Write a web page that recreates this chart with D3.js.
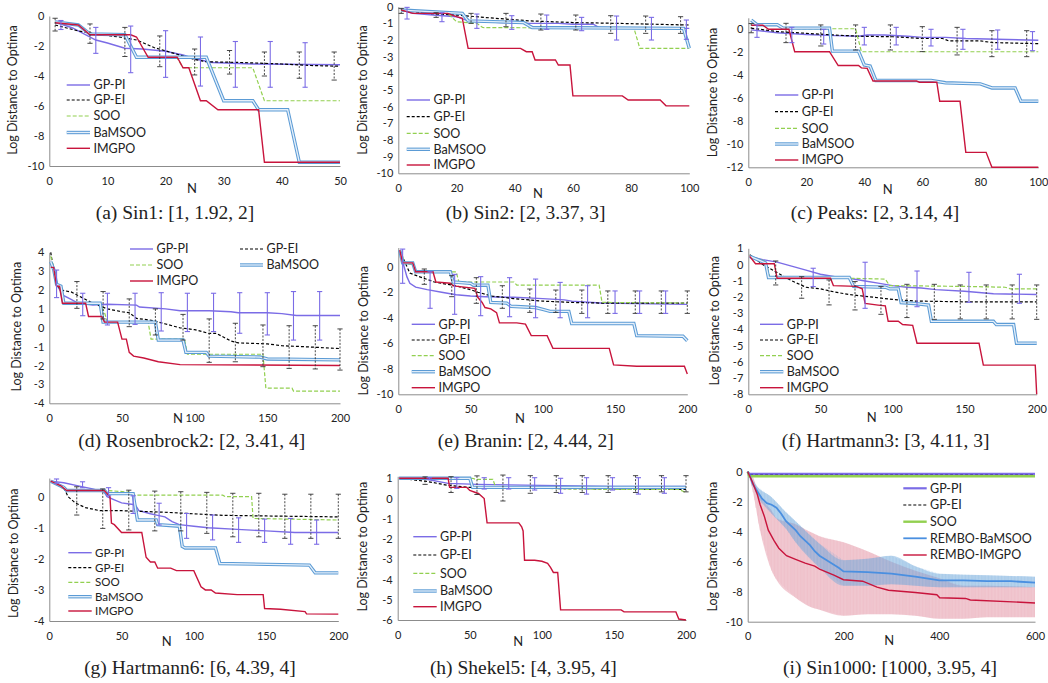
<!DOCTYPE html>
<html><head><meta charset="utf-8">
<script src="https://cdn.jsdelivr.net/npm/d3@7/dist/d3.min.js"></script>
<style>
body{margin:0;background:#fff}
svg text{font-family:Lato,"Liberation Sans",sans-serif;fill:#222}
</style>
</head><body>
<svg id="chart" width="1048" height="683"></svg>
<script>
// ---------------- DATA ----------------
const seriesKeys = ["PI","EI","SOO","Ba","IM"];
const legendNames = ["GP-PI","GP-EI","SOO","BaMSOO","IMGPO"];
const legendNamesRembo = ["GP-PI","GP-EI","SOO","REMBO-BaMSOO","REMBO-IMGPO"];
const captions = ["(a) Sin1: [1, 1.92, 2]","(b) Sin2: [2, 3.37, 3]","(c) Peaks: [2, 3.14, 4]",
  "(d) Rosenbrock2: [2, 3.41, 4]","(e) Branin: [2, 4.44, 2]","(f) Hartmann3: [3, 4.11, 3]",
  "(g) Hartmann6: [6, 4.39, 4]","(h) Shekel5: [4, 3.95, 4]","(i) Sin1000: [1000, 3.95, 4]"];
const yTitle = "Log Distance to Optima";
const xTitle = "N";

// tick values
const a_xTicks=[0,10,20,30,40,50], a_yTicks=[0,-2,-4,-6,-8,-10];
const b_xTicks=[0,20,40,60,80,100], b_yTicks=[0,-1,-2,-3,-4,-5,-6,-7,-8,-9,-10];
const c_xTicks=[0,20,40,60,80,100], c_yTicks=[0,-2,-4,-6,-8,-10,-12];
const d_xTicks=[0,50,100,150,200], d_yTicks=[4,3,2,1,0,-1,-2,-3,-4];
const e_xTicks=[0,50,100,150,200], e_yTicks=[0,-2,-4,-6,-8,-10];
const f_xTicks=[0,50,100,150,200], f_yTicks=[1,0,-1,-2,-3,-4,-5,-6,-7,-8];
const g_xTicks=[0,50,100,150,200], g_yTicks=[0,-1,-2,-3,-4];
const h_xTicks=[0,50,100,150,200], h_yTicks=[1,0,-1,-2,-3,-4,-5,-6];
const i_xTicks=[0,200,400,600], i_yTicks=[0,-2,-4,-6,-8,-10];

// (a) Sin1
const a_PI=[[1,-0.4],[4,-0.8],[8,-1.6],[10,-1.8],[13,-2.15],[16,-2.2],[20,-2.35],[23,-2.6],[25,-2.85],[28,-3.1],[35,-3.2],[50,-3.25]];
const a_EI=[[1,-0.6],[5,-1.0],[8,-1.2],[12,-1.4],[15,-1.6],[18,-2.1],[22,-2.55],[25,-2.9],[27,-3.05],[33,-3.1],[40,-3.2],[45,-3.3],[50,-3.35]];
const a_SOO=[[1,-0.4],[5,-0.6],[7,-1.2],[13,-1.25],[15,-2.8],[22,-2.8],[23,-3.45],[35,-3.45],[37,-5.65],[50,-5.65]];
const a_Ba=[[1,-0.4],[5,-0.6],[7,-1.2],[13,-1.25],[15,-2.75],[27,-2.75],[30,-5.65],[35,-5.65],[36,-6.25],[41,-6.25],[43,-9.75],[50,-9.75]];
const a_IM=[[1,-0.45],[5,-0.6],[7,-1.25],[14,-1.25],[15,-1.4],[17,-2.75],[22,-2.75],[23,-3.45],[24,-3.45],[26,-5.65],[27,-5.65],[29,-6.25],[36,-6.25],[37,-9.75],[50,-9.75]];
const a_PIerr=[[2,-0.3,-0.9],[8,-0.76,-2.49],[14,-0.67,-3.78],[20,-0.98,-4.09],[26,-1.4,-4.67],[32,-1.7,-4.75],[38,-1.7,-4.75],[44,-1.78,-4.75]];
const a_EIerr=[[1,-0.15,-1.0],[7,-0.53,-1.82],[13,-0.76,-2.7],[19,-1.33,-3.38],[25,-2.2,-3.93],[31,-2.3,-3.87],[37,-2.4,-4.0],[43,-2.4,-4.15],[49,-2.4,-4.27]];

// (b) Sin2
const b_PI=[[1,-0.2],[5,-0.4],[12,-0.5],[20,-0.6],[24,-0.85],[35,-0.95],[45,-1.0],[55,-1.0],[60,-1.05],[67,-1.05],[69,-1.25],[100,-1.3]];
const b_EI=[[1,-0.2],[10,-0.4],[20,-0.5],[30,-0.65],[45,-0.85],[60,-0.95],[75,-1.0],[100,-1.1]];
const b_SOO=[[1,-0.2],[17,-0.4],[20,-0.9],[27,-1.0],[29,-1.25],[81,-1.3],[83,-2.5],[100,-2.5]];
const b_Ba=[[1,-0.2],[22,-0.4],[24,-0.85],[43,-0.95],[46,-1.25],[98,-1.3],[100,-2.5]];
const b_IM=[[1,-0.2],[5,-0.4],[17,-0.4],[20,-0.6],[22,-0.7],[24,-2.5],[42,-2.5],[44,-2.7],[46,-2.7],[47,-3.2],[54,-3.2],[55,-3.5],[59,-3.5],[60,-5.35],[77,-5.35],[79,-5.6],[90,-5.6],[92,-5.95],[100,-5.95]];
const b_PIerr=[[3,-0.04,-0.74],[15,-0.36,-0.9],[27,-0.44,-1.3],[39,-0.54,-1.36],[51,-0.5,-1.36],[63,-0.64,-1.44],[75,-0.56,-2.0],[87,-0.64,-2.0],[99,-0.8,-1.96]];
const b_EIerr=[[1,-0.1,-0.4],[13,-0.36,-0.64],[25,-0.4,-1.0],[37,-0.4,-1.2],[49,-0.44,-1.4],[61,-0.5,-1.4],[73,-0.54,-1.6],[85,-0.56,-1.6],[97,-0.6,-1.6]];

// (c) Peaks
const c_PI=[[1,-0.05],[10,-0.3],[20,-0.45],[30,-0.55],[38,-0.6],[41,-0.5],[47,-0.5],[55,-0.6],[60,-0.7],[68,-0.7],[75,-0.8],[100,-0.95]];
const c_EI=[[1,0.1],[10,-0.2],[20,-0.35],[30,-0.5],[38,-0.6],[50,-0.65],[60,-0.8],[67,-0.8],[69,-1.0],[80,-1.0],[84,-1.15],[100,-1.25]];
const c_SOO=[[1,0.8],[3,0.4],[10,0.4],[12,0.05],[37,0.05],[39,-1.95],[100,-1.95]];
const c_Ba=[[1,0.8],[3,0.4],[10,0.4],[12,0.1],[28,0.1],[29,-1.9],[38,-1.9],[40,-3.1],[42,-3.2],[44,-4.45],[63,-4.45],[68,-4.65],[80,-4.75],[84,-5.1],[92,-5.1],[94,-6.25],[100,-6.25]];
const c_IM=[[1,0.35],[5,0.35],[7,0.0],[14,0.0],[16,-1.95],[28,-1.95],[31,-3.15],[38,-3.15],[39,-3.35],[41,-3.4],[43,-4.5],[58,-4.5],[59,-4.6],[65,-4.6],[66,-6.25],[73,-6.25],[75,-10.7],[82,-10.7],[84,-12],[100,-12]];
const c_PIerr=[[3,0.38,-0.7],[15,0.17,-1.16],[26,0.0,-1.28],[40,0.17,-1.36],[51,0.17,-1.36],[63,0.0,-1.45],[74,0.0,-1.74],[86,-0.06,-1.74],[98,-0.2,-1.86]];
const c_EIerr=[[1,0.5,-0.3],[13,0.52,-1.16],[25,0.38,-1.45],[37,0.38,-1.8],[49,0.38,-1.8],[60,0.23,-1.94],[72,0.17,-2.23],[84,-0.12,-2.38],[96,-0.12,-2.38]];

// (d) Rosenbrock2
const d_PI=[[1,3.5],[3,3.2],[5,2.3],[8,1.9],[10,1.7],[15,1.5],[20,1.3],[30,1.2],[40,1.25],[60,1.2],[62,1.1],[80,1.0],[90,0.9],[110,0.9],[125,0.85],[130,0.8],[150,0.8],[160,0.75],[170,0.65],[200,0.65]];
const d_EI=[[1,4.0],[3,3.0],[5,2.3],[8,2.0],[15,1.9],[20,1.7],[30,1.3],[40,1.0],[50,0.85],[55,0.8],[60,0.5],[70,0.4],[80,0.2],[90,0.0],[100,-0.1],[110,-0.3],[115,-0.3],[125,-0.7],[130,-0.8],[150,-0.85],[160,-0.95],[175,-1.0],[200,-1.1]];
const d_SOO=[[1,3.8],[3,3.2],[5,2.5],[8,1.9],[10,1.3],[35,1.3],[38,0.8],[40,0.3],[68,0.3],[70,-0.6],[93,-0.6],[95,-1.4],[147,-1.4],[149,-3.2],[167,-3.2],[168,-3.35],[200,-3.35]];
const d_Ba=[[1,3.5],[3,3.1],[5,2.3],[8,2.2],[10,1.3],[35,1.3],[37,0.3],[73,0.3],[75,-0.65],[92,-0.65],[94,-1.3],[108,-1.3],[110,-1.5],[145,-1.55],[150,-1.65],[200,-1.7]];
const d_IM=[[1,3.2],[3,3.2],[5,2.2],[7,2.2],[9,1.3],[25,1.3],[27,0.6],[36,0.6],[38,0.3],[47,0.3],[50,-0.6],[53,-0.6],[55,-1.3],[58,-1.5],[65,-1.6],[75,-1.8],[90,-1.95],[200,-2.0]];
const d_PIerr=[[5,3.06,1.6],[23,1.83,0.64],[40,1.83,0.15],[59,1.83,0.18],[77,1.86,-0.17],[95,1.83,-0.2],[113,1.83,-0.2],[131,1.86,-0.29],[150,1.86,-0.38],[168,1.92,-0.65],[186,1.92,-0.65]];
const d_EIerr=[[19,2.45,1.03],[37,1.92,0.47],[55,1.53,0.06],[73,1.0,-0.38],[92,0.71,-0.65],[110,0.47,-1.83],[128,0.24,-1.8],[147,0.15,-2.06],[165,0.11,-2.15],[183,0.11,-2.18],[200,-0.06,-2.24]];

// (e) Branin
const e_PI=[[1,1.3],[4,0.0],[6,-0.8],[8,-1.3],[12,-1.6],[20,-1.8],[30,-2.0],[40,-2.2],[50,-2.3],[60,-2.35],[80,-2.4],[100,-2.5],[115,-2.6],[120,-2.7],[140,-2.85],[200,-2.95]];
const e_EI=[[1,1.3],[4,0.5],[8,-0.5],[15,-0.8],[25,-1.2],[40,-1.5],[50,-1.8],[55,-2.0],[65,-2.3],[80,-2.5],[100,-2.7],[120,-2.8],[140,-2.85],[200,-2.85]];
const e_SOO=[[1,1.3],[5,0.2],[10,0.2],[13,-0.4],[40,-0.4],[42,-1.2],[80,-1.2],[82,-1.45],[139,-1.45],[141,-2.8],[200,-2.85]];
const e_Ba=[[1,1.3],[3,0.3],[10,0.3],[12,-0.4],[36,-0.4],[38,-1.2],[50,-1.3],[52,-1.45],[62,-1.45],[64,-2.8],[75,-2.85],[78,-3.1],[95,-3.2],[100,-3.35],[105,-3.5],[118,-3.5],[120,-4.45],[163,-4.45],[165,-5.4],[197,-5.45],[200,-5.8]];
const e_IM=[[1,1.3],[3,0.3],[10,0.3],[12,-0.4],[24,-0.4],[26,-1.2],[36,-1.3],[38,-1.5],[53,-1.7],[55,-2.4],[58,-2.8],[60,-3.2],[64,-3.3],[68,-3.6],[70,-4.4],[82,-4.4],[88,-4.5],[92,-5.4],[103,-5.4],[107,-6.4],[146,-6.4],[149,-7.7],[165,-7.8],[198,-7.8],[200,-8.4]];
const e_PIerr=[[3,1.38,-1.3],[22,-0.39,-3.26],[39,-0.6,-3.73],[57,-0.78,-3.84],[77,-0.86,-3.92],[95,-0.97,-4.0],[112,-1.23,-4.0],[131,-1.49,-4.0],[150,-1.9,-3.66],[167,-1.9,-3.66],[185,-1.9,-3.66]];
const e_EIerr=[[18,-0.18,-1.38],[37,-0.7,-2.35],[54,-0.86,-2.87],[72,-1.49,-3.26],[91,-1.75,-3.58],[109,-1.83,-3.58],[127,-1.83,-3.66],[145,-1.9,-3.66],[164,-1.9,-3.66],[182,-1.9,-3.66],[200,-1.9,-3.66]];

// (f) Hartmann3
const f_PI=[[1,0.5],[10,0.3],[20,0.15],[30,-0.1],[40,-0.35],[50,-0.6],[60,-0.75],[70,-0.85],[80,-1.0],[90,-1.15],[100,-1.3],[110,-1.4],[120,-1.45],[130,-1.55],[150,-1.65],[170,-1.8],[200,-1.85]];
const f_EI=[[1,0.6],[10,0.0],[20,-0.5],[30,-1.0],[40,-1.4],[50,-1.5],[60,-1.7],[70,-1.85],[80,-1.95],[90,-2.05],[100,-2.15],[115,-2.25],[150,-2.3],[200,-2.3]];
const f_SOO=[[1,0.5],[12,0.2],[15,-0.8],[72,-0.85],[95,-0.9],[98,-1.3],[150,-1.35],[178,-1.4],[182,-1.5],[200,-1.5]];
const f_Ba=[[1,0.5],[12,0.1],[14,-0.8],[70,-0.8],[73,-1.35],[95,-1.4],[98,-1.5],[104,-1.5],[106,-2.35],[115,-2.4],[125,-2.5],[127,-3.5],[170,-3.5],[172,-3.7],[184,-3.7],[186,-4.85],[200,-4.85]];
const f_IM=[[1,0.5],[5,0.05],[18,0.05],[20,-0.85],[57,-0.85],[59,-1.3],[75,-1.35],[79,-1.5],[81,-2.4],[90,-2.5],[95,-2.55],[97,-3.5],[104,-3.5],[107,-3.7],[114,-3.75],[117,-4.85],[160,-4.85],[163,-6.2],[199,-6.2],[200,-8.0]];
const f_PIerr=[[45,-0.23,-1.36],[81,0.14,-2.7],[117,-0.4,-2.6],[153,-0.48,-2.33],[188,-0.6,-2.39]];
const f_EIerr=[[19,0.22,-1.26],[37,-0.75,-2.08],[56,-0.95,-2.49],[74,-1.05,-2.8],[92,-1.36,-3.07],[110,-1.22,-3.27],[129,-1.22,-3.38],[147,-1.26,-3.35],[165,-1.26,-3.35],[183,-1.26,-3.35],[200,-1.26,-3.38]];

// (g) Hartmann6
const g_PI=[[1,0.5],[10,0.45],[20,0.35],[30,0.25],[38,0.15],[40,0.0],[45,-0.1],[50,-0.2],[58,-0.25],[60,-0.3],[62,-0.45],[70,-0.55],[75,-0.6],[80,-0.65],[85,-0.8],[90,-0.9],[100,-0.95],[110,-1.0],[130,-1.05],[150,-1.1],[170,-1.15],[200,-1.15]];
const g_EI=[[1,0.5],[10,0.3],[13,0.0],[18,-0.2],[25,-0.35],[35,-0.45],[50,-0.45],[80,-0.5],[100,-0.55],[120,-0.6],[150,-0.62],[200,-0.65]];
const g_SOO=[[1,0.5],[10,0.25],[15,0.2],[40,0.2],[55,0.15],[58,0.05],[120,0.05],[122,0.0],[140,0.0],[141,-0.7],[200,-0.75]];
const g_Ba=[[1,0.5],[10,0.3],[12,0.2],[38,0.2],[40,0.1],[58,0.1],[59,-0.2],[61,-0.75],[74,-0.75],[75,-0.9],[90,-0.95],[92,-1.6],[94,-1.65],[115,-1.65],[118,-2.15],[180,-2.2],[184,-2.45],[200,-2.45]];
const g_IM=[[1,0.5],[8,0.35],[12,0.2],[38,0.2],[42,0.0],[43,-0.85],[45,-0.9],[50,-1.15],[64,-1.15],[67,-1.95],[70,-2.1],[73,-2.1],[75,-2.3],[84,-2.3],[88,-2.38],[100,-2.38],[105,-2.9],[108,-3.0],[112,-3.0],[115,-3.1],[130,-3.15],[148,-3.15],[149,-3.6],[160,-3.62],[177,-3.7],[178,-3.77],[200,-3.78]];
const g_PIerr=[[5,0.57,0.43],[23,0.48,0.29],[41,0.29,0.03],[58,0.03,-0.54],[76,-0.21,-0.91],[95,-0.54,-1.34],[113,-0.59,-1.39],[131,-0.68,-1.47],[149,-0.72,-1.47],[167,-0.7,-1.53],[185,-0.75,-1.53]];
const g_EIerr=[[19,0.32,-0.59],[37,0.25,-1.02],[55,0.21,-1.07],[73,0.18,-1.1],[91,0.16,-1.1],[109,0.14,-1.18],[127,0.11,-1.29],[145,0.11,-1.29],[163,0.08,-1.34],[181,0.08,-1.34],[200,0.08,-1.34]];

// (h) Shekel5
const h_PI=[[1,1.0],[20,0.95],[35,0.75],[55,0.7],[100,0.65],[150,0.6],[200,0.6]];
const h_EI=[[1,1.0],[20,0.85],[35,0.65],[50,0.55],[100,0.5],[200,0.45]];
const h_SOO=[[1,1.0],[52,1.0],[54,0.95],[66,0.95],[68,0.55],[100,0.5],[150,0.45],[195,0.45],[200,0.3]];
const h_Ba=[[1,1.0],[50,1.0],[52,0.55],[200,0.55]];
const h_IM=[[1,1.0],[35,1.0],[36,0.55],[48,0.55],[50,0.4],[54,0.3],[56,0.25],[60,0.0],[62,-1.2],[84,-1.2],[86,-1.4],[87,-1.6],[88,-3.05],[95,-3.05],[100,-3.1],[104,-3.2],[106,-3.4],[108,-3.65],[111,-3.65],[113,-5.5],[155,-5.5],[157,-5.6],[193,-5.6],[195,-5.95],[200,-6.0]];
const h_PIerr=[[22,1.03,0.95],[41,1.03,0.5],[60,1.03,0.47],[77,1.03,0.47],[95,1.03,0.42],[113,1.0,0.26],[131,1.03,0.22],[149,1.03,0.42],[167,1.03,0.22],[185,1.03,0.26]];
const h_EIerr=[[19,1.07,0.7],[37,1.08,0.3],[55,1.12,0.2],[73,1.16,-0.12],[92,1.13,0.26],[110,1.13,0.3],[128,1.13,0.3],[146,1.13,0.3],[165,1.13,0.3],[183,1.13,0.33],[200,1.13,0.33]];

// (i) Sin1000
const i_PI=[[0,0],[3,-0.15],[600,-0.15]];
const i_EI=[[0,0],[3,-0.25],[600,-0.25]];
const i_SOO=[[0,0],[3,-0.3],[600,-0.3]];
const i_Ba=[[0,0],[5,-0.3],[10,-0.8],[20,-1.3],[30,-1.8],[40,-2.1],[50,-2.2],[60,-2.4],[70,-2.8],[80,-3.3],[90,-3.6],[100,-3.9],[110,-4.3],[120,-4.6],[130,-4.9],[140,-5.3],[150,-5.6],[160,-5.8],[170,-6.0],[180,-6.2],[190,-6.4],[200,-6.65],[250,-6.7],[300,-6.8],[350,-7.0],[400,-7.25],[450,-7.25],[500,-7.3],[550,-7.3],[600,-7.4]];
const i_IM=[[0,0],[10,-0.7],[20,-1.5],[26,-2.2],[35,-3.0],[43,-3.9],[55,-4.6],[65,-5.1],[81,-5.6],[100,-5.85],[120,-6.1],[140,-6.3],[150,-6.5],[180,-6.9],[200,-7.2],[240,-7.3],[270,-7.7],[294,-7.9],[350,-8.05],[395,-8.2],[401,-8.4],[455,-8.45],[465,-8.55],[600,-8.75]];
const i_BaBand=[[0,0,0],[20,-1.0,-1.6],[50,-1.7,-2.8],[80,-2.7,-3.8],[100,-3.3,-4.7],[150,-4.8,-6.4],[200,-5.9,-7.6],[250,-5.8,-7.6],[300,-5.6,-7.5],[350,-6.3,-7.6],[400,-6.8,-7.7],[500,-6.9,-7.7],[600,-7.0,-7.7]];
const i_IMBand=[[0,0,0],[10,-0.3,-1.2],[25,-1.6,-3.8],[50,-2.6,-6.6],[60,-3.1,-7.2],[100,-3.5,-8.4],[130,-4.0,-9.0],[150,-4.3,-9.2],[200,-4.7,-9.6],[250,-5.3,-9.5],[300,-6.0,-9.5],[350,-6.6,-9.6],[400,-7.1,-9.8],[450,-7.6,-9.8],[500,-7.6,-9.7],[600,-7.7,-9.7]];

// ---------------- LAYOUT / STYLE ----------------
const STY = {
  PI:{stroke:"#7B6CE6", w:1.4},
  EI:{stroke:"#000", w:1.2, dash:"3,2"},
  SOO:{stroke:"#92D050", w:1.2, dash:"4,2"},
  Ba:{double:true, outer:"#5B9BD5", inner:"#E6F0FA", w:3.4, wi:1.3},
  IM:{stroke:"#C8143C", w:1.4}
};
const STY_I = {
  PI:{stroke:"#7B6CE6", w:2.2},
  EI:{stroke:"#000", w:1.2, dash:"3,2"},
  SOO:{stroke:"#92D050", w:2.4},
  Ba:{stroke:"#4A8FE0", w:1.8},
  IM:{stroke:"#C8143C", w:1.4}
};

const panels = [
 {x0:49.3,x1:340,xDom:[0,50],yRef:[[0,16],[-10,166]],yDom:[-10,0],xt:a_xTicks,yt:a_yTicks,
  s:[a_PI,a_EI,a_SOO,a_Ba,a_IM],pe:a_PIerr,ee:a_EIerr,
  leg:{x1:66.7,x2:90,tx:93.5,ys:[85,100,116,132.5,148.3]},cap:captions[0],capX:175,capY:219,yt0:[13,90],nPos:[192,188]},
 {x0:398.3,x1:689.3,xDom:[0,100],yRef:[[0,6.7],[-10,173.3]],yDom:[-10,0],xt:b_xTicks,yt:b_yTicks,
  s:[b_PI,b_EI,b_SOO,b_Ba,b_IM],pe:b_PIerr,ee:b_EIerr,
  leg:{x1:406.7,x2:430,tx:433.5,ys:[100,116.7,133.3,149.3,165]},cap:captions[1],capX:525.7,capY:219,yt0:[362.7,90],nPos:[538,193]},
 {x0:748.3,x1:1038.3,xDom:[0,100],yRef:[[0,29.3],[-12,167.3]],yDom:[-12,1],xt:c_xTicks,yt:c_yTicks,
  s:[c_PI,c_EI,c_SOO,c_Ba,c_IM],pe:c_PIerr,ee:c_EIerr,
  leg:{x1:775,x2:798.3,tx:801.8,ys:[95,111.7,128.3,144,160]},cap:captions[2],capX:875,capY:219,yt0:[712.7,92.5],nPos:[887.7,189]},
 {x0:49.3,x1:340,xDom:[0,200],yRef:[[4,252.3],[-4,403.3]],yDom:[-4,4],xt:d_xTicks,yt:d_yTicks,
  s:[d_PI,d_EI,d_SOO,d_Ba,d_IM],pe:d_PIerr,ee:d_EIerr,
  leg:{twoCol:true,cols:[[130,153,156.5],[240,263,266.5]],rows:[249,265,281]},cap:captions[3],capX:191.7,capY:447,yt0:[16.7,326.7],nPos:[178,418]},
 {x0:398.3,x1:687.3,xDom:[0,200],yRef:[[0,266.7],[-10,394.3]],yDom:[-10,1.5],xt:e_xTicks,yt:e_yTicks,
  s:[e_PI,e_EI,e_SOO,e_Ba,e_IM],pe:e_PIerr,ee:e_EIerr,
  leg:{x1:411.7,x2:435,tx:438.5,ys:[324.3,340,355.7,371.7,387.7]},cap:captions[4],capX:525.7,capY:447,yt0:[363.3,330.8],nPos:[520,418]},
 {x0:748.3,x1:1036.7,xDom:[0,200],yRef:[[1,248.3],[-8,394.3]],yDom:[-8,1],xt:f_xTicks,yt:f_yTicks,
  s:[f_PI,f_EI,f_SOO,f_Ba,f_IM],pe:f_PIerr,ee:f_EIerr,
  leg:{x1:760,x2:783.3,tx:786.8,ys:[324.3,340,355.7,371.7,387.7]},cap:captions[5],capX:885.7,capY:447,yt0:[715,320.8],nPos:[871.7,417.7]},
 {x0:49.3,x1:338.3,xDom:[0,200],yRef:[[0,496.7],[-4,621]],yDom:[-4,0.6],xt:g_xTicks,yt:g_yTicks,
  s:[g_PI,g_EI,g_SOO,g_Ba,g_IM],pe:g_PIerr,ee:g_EIerr,
  leg:{x1:68.3,x2:91.7,tx:95,ys:[552.7,567.7,582.3,596.7,611],fs:11.5},cap:captions[6],capX:190,capY:674,yt0:[13.3,553.3],nPos:[166.7,641.7]},
 {x0:397.7,x1:686,xDom:[0,200],yRef:[[1,478.3],[-6,620]],yDom:[-6,1.1],xt:h_xTicks,yt:h_yTicks,
  s:[h_PI,h_EI,h_SOO,h_Ba,h_IM],pe:h_PIerr,ee:h_EIerr,
  leg:{x1:413.3,x2:436.7,tx:440,ys:[536.7,555,573.3,591,606.7]},cap:captions[7],capX:523.3,capY:674,yt0:[362.7,546.7],nPos:[518.3,641.7]},
 {x0:747.7,x1:1035,xDom:[0,600],yRef:[[0,471.7],[-10,621.7]],yDom:[-10,0],xt:i_xTicks,yt:i_yTicks,
  s:[i_PI,i_EI,i_SOO,i_Ba,i_IM],bands:[[i_IMBand,"#E8A3B1",0.55],[i_BaBand,"#6FA8DC",0.45]],rembo:true,
  leg:{x1:903.3,x2:926.7,tx:930,ys:[488.3,505,521.7,538.3,555]},cap:captions[8],capX:890,capY:674,yt0:[712.7,546.7],nPos:[889.3,640]}
];

// ---------------- DRAW ----------------
const svg = d3.select("#chart");

function strokeLine(g, pathD, st){
  if (st.double){
    g.append("path").attr("d",pathD).attr("fill","none").attr("stroke",st.outer).attr("stroke-width",st.w);
    g.append("path").attr("d",pathD).attr("fill","none").attr("stroke",st.inner).attr("stroke-width",st.wi);
  } else {
    const p = g.append("path").attr("d",pathD).attr("fill","none").attr("stroke",st.stroke).attr("stroke-width",st.w);
    if (st.dash) p.attr("stroke-dasharray",st.dash);
  }
}

panels.forEach(P => {
  const g = svg.append("g");
  const lin = d3.scaleLinear().domain([P.yRef[0][0],P.yRef[1][0]]).range([P.yRef[0][1],P.yRef[1][1]]);
  const y = d3.scaleLinear().domain(P.yDom).range([lin(P.yDom[0]), lin(P.yDom[1])]);
  const x = d3.scaleLinear().domain(P.xDom).range([P.x0, P.x1]);
  const styles = P.rembo ? STY_I : STY;
  const yb = y(P.yDom[0]);

  // axes
  const ya = g.append("g").attr("transform",`translate(${P.x0},0)`)
    .call(d3.axisLeft(y).tickValues(P.yt).tickSize(0).tickPadding(5).tickFormat(d3.format("d")));
  const xa = g.append("g").attr("transform",`translate(0,${yb})`)
    .call(d3.axisBottom(x).tickValues(P.xt).tickSize(0).tickPadding(11).tickFormat(d3.format("d")));
  [ya,xa].forEach(a=>{
    a.select(".domain").attr("stroke","#8c8c8c").attr("stroke-width",1);
    a.selectAll("text").attr("font-size",11).attr("fill","#222")
      .attr("font-family","Lato, 'Liberation Sans', sans-serif");
  });
  ya.selectAll("text").text(d => d<0 ? "-"+Math.abs(d) : d);

  // bands
  if (P.bands){
    P.bands.forEach(([band,col,op])=>{
      const area = d3.area().x(d=>x(d[0])).y0(d=>y(d[1])).y1(d=>y(d[2])).curve(d3.curveMonotoneX);
      g.append("path").attr("d",area(band)).attr("fill",col).attr("opacity",op);
      // vertical hatching like dense error bars
      const xsH = d3.range(P.xDom[0]+2, P.xDom[1], 3);
      const hi = d3.scaleLinear().domain(band.map(b=>b[0])).range(band.map(b=>b[1]));
      const lo = d3.scaleLinear().domain(band.map(b=>b[0])).range(band.map(b=>b[2]));
      g.append("g").selectAll("line").data(xsH).join("line")
        .attr("x1",d=>x(d)).attr("x2",d=>x(d)).attr("y1",d=>y(hi(d))).attr("y2",d=>y(lo(d)))
        .attr("stroke",col).attr("stroke-width",0.5).attr("opacity",0.5);
    });
  }

  // lines
  const line = d3.line().x(d=>x(d[0])).y(d=>y(d[1]));
  seriesKeys.forEach((k,i)=> strokeLine(g, line(P.s[i]), styles[k]));

  // error bars
  function errBars(data, col, w, dash){
    const eg = g.append("g");
    data.forEach(([n,hiV,loV])=>{
      const xx = x(n);
      const segs = [[xx,y(hiV),xx,y(loV)],[xx-2.6,y(hiV),xx+2.6,y(hiV)],[xx-2.6,y(loV),xx+2.6,y(loV)]];
      segs.forEach((s,j)=>{
        const l = eg.append("line").attr("x1",s[0]).attr("y1",s[1]).attr("x2",s[2]).attr("y2",s[3])
          .attr("stroke",col).attr("stroke-width",w);
        if (dash && j===0) l.attr("stroke-dasharray",dash);
      });
    });
  }
  if (P.ee) errBars(P.ee, "#333", 0.9, "2,1.5");
  if (P.pe) errBars(P.pe, "#7B6CE6", 1.1, null);

  // legend
  const names = P.rembo ? legendNamesRembo : legendNames;
  const fs = (P.leg.fs||12.5);
  const entries = [];
  if (P.leg.twoCol){
    const pos = [[0,0],[1,0],[0,1],[1,1],[0,2]];
    seriesKeys.forEach((k,i)=>{ const c=P.leg.cols[pos[i][0]]; entries.push({k,name:names[i],x1:c[0],x2:c[1],tx:c[2],y:P.leg.rows[pos[i][1]]}); });
  } else {
    seriesKeys.forEach((k,i)=> entries.push({k,name:names[i],x1:P.leg.x1,x2:P.leg.x2,tx:P.leg.tx,y:P.leg.ys[i]}));
  }
  entries.forEach(e=>{
    strokeLine(g, `M${e.x1},${e.y}L${e.x2},${e.y}`, styles[e.k]);
    g.append("text").attr("x",e.tx).attr("y",e.y).attr("dy","0.35em").attr("font-size",fs).text(e.name);
  });

  // titles
  g.append("text").attr("transform",`translate(${P.yt0[0]},${P.yt0[1]}) rotate(-90)`)
    .attr("text-anchor","middle").attr("dy","0.35em").attr("font-size",12.5).text(yTitle);
  g.append("text").attr("x",P.nPos[0]).attr("y",P.nPos[1]).attr("text-anchor","middle").attr("dy","0.35em")
    .attr("font-size",13).text(xTitle);
  g.append("text").attr("x",P.capX).attr("y",P.capY).attr("text-anchor","middle")
    .attr("font-family","'Liberation Serif','Times New Roman',serif").attr("font-size",19.5).attr("fill","#000")
    .style("font-family","'Liberation Serif','Times New Roman',serif").text(P.cap);
});
</script>
</body></html>
